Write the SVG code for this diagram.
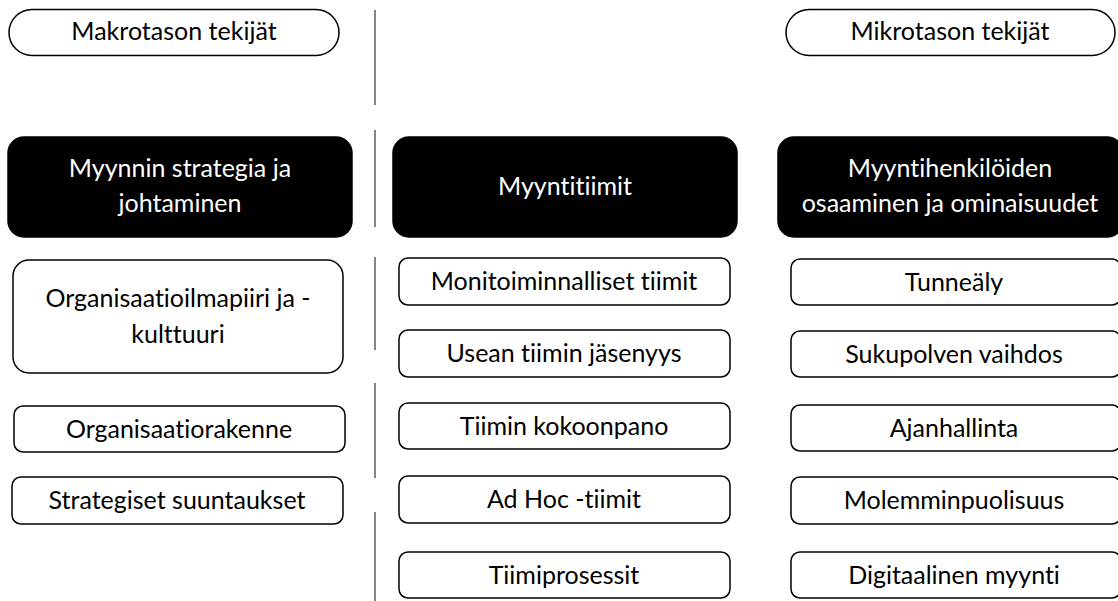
<svg xmlns="http://www.w3.org/2000/svg" width="1118" height="601" viewBox="0 0 1118 601">
<style>
.t{font-family:Lato,"Open Sans","Liberation Sans",sans-serif;font-size:25px;text-anchor:middle;fill:#000;font-variant-ligatures:none;font-feature-settings:"liga" 0}
.w{fill:#fff}
.box{fill:#fff;stroke:#000;stroke-width:1.5}
.dark{fill:#000;stroke:#000;stroke-width:1.5}
.sep{stroke:#333;stroke-width:1.2}
</style>
<rect width="1118" height="601" fill="#fff"/>
<g id="connectors">
<line class="sep" x1="375" y1="10" x2="375" y2="105"/>
<line class="sep" x1="375" y1="130" x2="375" y2="227"/>
<line class="sep" x1="375" y1="257" x2="375" y2="350"/>
<line class="sep" x1="375" y1="383" x2="375" y2="478"/>
<line class="sep" x1="375" y1="512" x2="375" y2="601"/>
</g>
<g id="makro"><rect class="box" x="9" y="9.5" width="330" height="46" rx="23"/><text class="t" x="174" y="40">Makrotason tekijät</text></g>
<g id="mikro"><rect class="box" x="786" y="9.5" width="329" height="46" rx="23"/><text class="t" x="950" y="40">Mikrotason tekijät</text></g>
<g id="strategia"><rect class="dark" x="8" y="137" width="344" height="100" rx="16"/><text class="t w" x="180" y="177">Myynnin strategia ja</text><text class="t w" x="180" y="212">johtaminen</text></g>
<g id="tiimit"><rect class="dark" x="393" y="137" width="344" height="100" rx="16"/><text class="t w" x="565" y="195">Myyntitiimit</text></g>
<g id="henkilot"><rect class="dark" x="778" y="137" width="345" height="100" rx="16"/><text class="t w" x="950" y="177">Myyntihenkilöiden</text><text class="t w" x="950" y="212">osaaminen ja ominaisuudet</text></g>
<g id="ilmapiiri"><rect class="box" x="13" y="260" width="330" height="113" rx="16"/><text class="t" x="178" y="307">Organisaatioilmapiiri ja -</text><text class="t" x="178" y="343">kulttuuri</text></g>
<g id="rakenne"><rect class="box" x="14" y="406" width="331" height="46" rx="9"/><text class="t" x="179" y="438">Organisaatiorakenne</text></g>
<g id="suuntaukset"><rect class="box" x="12" y="477" width="331" height="47" rx="9"/><text class="t" x="177" y="509">Strategiset suuntaukset</text></g>
<g id="monitoim"><rect class="box" x="399" y="258" width="331" height="47" rx="9"/><text class="t" x="564" y="290">Monitoiminnalliset tiimit</text></g>
<g id="usean"><rect class="box" x="399" y="330" width="331" height="47" rx="9"/><text class="t" x="564" y="362">Usean tiimin jäsenyys</text></g>
<g id="kokoonpano"><rect class="box" x="399" y="403" width="331" height="46" rx="9"/><text class="t" x="564" y="435">Tiimin kokoonpano</text></g>
<g id="adhoc"><rect class="box" x="399" y="476" width="331" height="47" rx="9"/><text class="t" x="564" y="508">Ad Hoc -tiimit</text></g>
<g id="prosessit"><rect class="box" x="399" y="552" width="331" height="46" rx="9"/><text class="t" x="564" y="584">Tiimiprosessit</text></g>
<g id="tunnealy"><rect class="box" x="791" y="259" width="330" height="46" rx="9"/><text class="t" x="954" y="291">Tunneäly</text></g>
<g id="sukupolvi"><rect class="box" x="791" y="331" width="330" height="46" rx="9"/><text class="t" x="954" y="363">Sukupolven vaihdos</text></g>
<g id="ajanhallinta"><rect class="box" x="791" y="405" width="330" height="46" rx="9"/><text class="t" x="954" y="437">Ajanhallinta</text></g>
<g id="molemmin"><rect class="box" x="791" y="477" width="330" height="47" rx="9"/><text class="t" x="954" y="509">Molemminpuolisuus</text></g>
<g id="digi"><rect class="box" x="791" y="552" width="330" height="46" rx="9"/><text class="t" x="954" y="584">Digitaalinen myynti</text></g>
</svg>
